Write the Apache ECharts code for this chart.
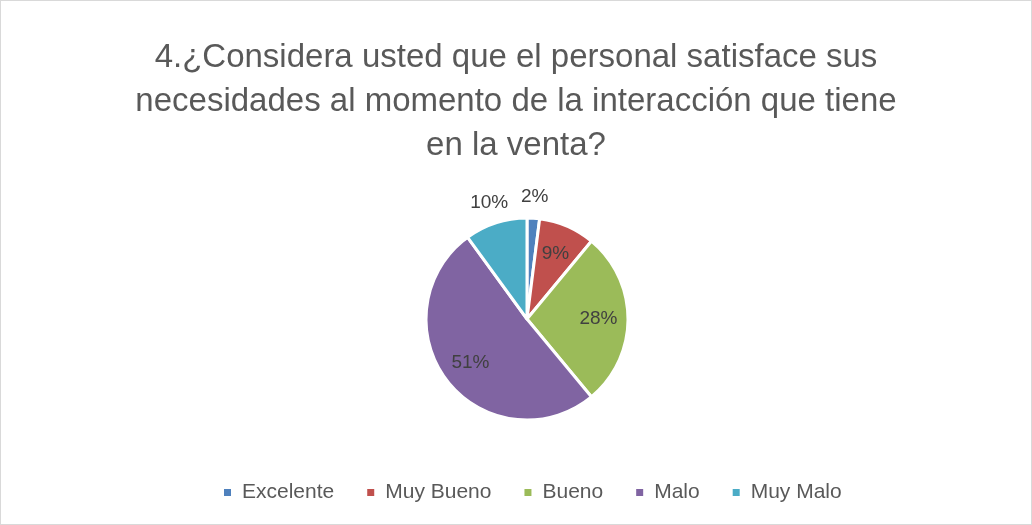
<!DOCTYPE html>
<html>
<head>
<meta charset="utf-8">
<script src="https://cdn.jsdelivr.net/npm/echarts@6/dist/echarts.min.js"></script>
<style>
  html, body { margin: 0; padding: 0; background: #fff; }
  #chart { width: 1030px; height: 523px; border: 1px solid #d9d9d9; }
</style>
</head>
<body>
<div id="chart"></div>
<script>
// datos
const categories = ["Excelente", "Muy Bueno", "Bueno", "Malo", "Muy Malo"];
const values = [2, 9, 28, 51, 10];
const colors = ["#4F81BD", "#C0504D", "#9BBB59", "#8064A2", "#4BACC6"];
const outsideLabels = ["Excelente", "Muy Malo"];

const font = "'Liberation Sans', Arial, sans-serif";
const chart = echarts.init(document.getElementById("chart"));

const pieData = categories.map((name, i) => ({
  name: name,
  value: values[i],
  itemStyle: { color: colors[i] }
}));

// serie transparente que solo muestra etiquetas (dentro o fuera del pastel)
function labelSeries(radius, outside) {
  return {
    type: "pie",
    center: [526, 318],
    radius: radius,
    startAngle: 90,
    clockwise: true,
    silent: true,
    legendHoverLink: false,
    itemStyle: { color: "transparent" },
    label: {
      position: "inside",
      formatter: "{c}%",
      color: "#404040",
      fontFamily: font,
      fontSize: 19
    },
    labelLine: { show: false },
    data: categories.map((name, i) => ({
      name: name,
      value: values[i],
      label: { show: outsideLabels.includes(name) === outside }
    }))
  };
}

const option = {
  animation: false,
  title: {
    text: "4.¿Considera usted que el personal satisface sus\nnecesidades al momento de la interacción que tiene\nen la venta?",
    left: "center",
    top: 30,
    textStyle: {
      color: "#595959",
      fontFamily: font,
      fontWeight: "normal",
      fontSize: 33,
      lineHeight: 44
    }
  },
  legend: {
    bottom: 16,
    left: 216,
    icon: "rect",
    itemWidth: 9,
    itemHeight: 9,
    itemGap: 31,
    data: categories,
    textStyle: { color: "#595959", fontFamily: font, fontSize: 21, padding: [0, 0, 0, 5] }
  },
  series: [
    {
      type: "pie",
      center: [526, 318],
      radius: [0, 101],
      startAngle: 90,
      clockwise: true,
      silent: true,
      label: { show: false },
      labelLine: { show: false },
      itemStyle: { borderColor: "#fff", borderWidth: 3 },
      data: pieData
    },
    labelSeries([36, 101], false),
    labelSeries([101, 138], true)
  ]
};

chart.setOption(option);
</script>
</body>
</html>
